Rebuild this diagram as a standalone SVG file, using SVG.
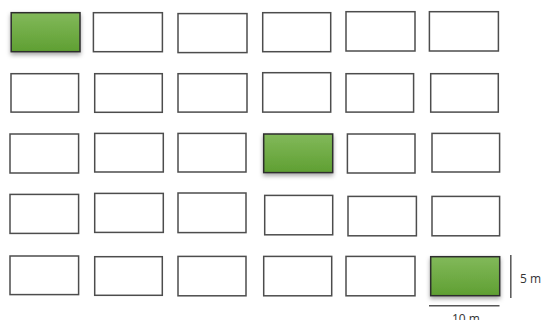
<svg xmlns="http://www.w3.org/2000/svg" width="541" height="320" viewBox="0 0 541 320">
<defs>
<linearGradient id="gr" x1="0" y1="0" x2="0" y2="1">
<stop offset="0" stop-color="#82b95a"/>
<stop offset="1" stop-color="#5f9f32"/>
</linearGradient>
<filter id="sh" x="-20%" y="-20%" width="140%" height="150%">
<feDropShadow dx="0" dy="2.5" stdDeviation="2" flood-color="#000" flood-opacity="0.35"/>
</filter>
</defs>
<style>
.p{fill:#fff;stroke:#4d4d4d;stroke-width:1.5}
.g{fill:url(#gr);stroke:#2e2e2e;stroke-width:1.5;filter:url(#sh)}
.dim{stroke:#555;stroke-width:1.5;fill:none}
.t{font-family:"Open Sans","Liberation Sans",sans-serif;font-size:12px;fill:#333}
</style>
<rect width="541" height="320" fill="#fff"/>
<g id="r1c1"><rect class="g" x="11.2" y="12.7" width="68.8" height="39"/></g>
<g id="r1c2"><rect class="p" x="93.4" y="12.7" width="69" height="39"/></g>
<g id="r1c3"><rect class="p" x="178" y="13.6" width="69" height="39"/></g>
<g id="r1c4"><rect class="p" x="262.7" y="12.7" width="68" height="39"/></g>
<g id="r1c5"><rect class="p" x="346" y="11.7" width="69" height="39.3"/></g>
<g id="r1c6"><rect class="p" x="429.4" y="11.7" width="69" height="39.3"/></g>

<g id="r2c1"><rect class="p" x="11" y="73.7" width="67.6" height="38.4"/></g>
<g id="r2c2"><rect class="p" x="94.7" y="73.7" width="67.6" height="38.6"/></g>
<g id="r2c3"><rect class="p" x="178" y="73.7" width="69" height="38.4"/></g>
<g id="r2c4"><rect class="p" x="262.7" y="72.7" width="68" height="39.4"/></g>
<g id="r2c5"><rect class="p" x="346" y="73.7" width="67.6" height="38.4"/></g>
<g id="r2c6"><rect class="p" x="430.7" y="73.7" width="67.6" height="38.4"/></g>

<g id="r3c1"><rect class="p" x="10" y="134" width="68.6" height="39"/></g>
<g id="r3c2"><rect class="p" x="94.7" y="133.4" width="68.6" height="38.6"/></g>
<g id="r3c3"><rect class="p" x="178" y="133.4" width="68" height="38.6"/></g>
<g id="r3c4"><rect class="g" x="263.7" y="134" width="69" height="38.6"/></g>
<g id="r3c5"><rect class="p" x="347.4" y="134" width="67.6" height="39"/></g>
<g id="r3c6"><rect class="p" x="432" y="133.4" width="67.6" height="38.6"/></g>

<g id="r4c1"><rect class="p" x="10" y="194.4" width="68.6" height="39"/></g>
<g id="r4c2"><rect class="p" x="94.7" y="193.4" width="68.6" height="39"/></g>
<g id="r4c3"><rect class="p" x="178" y="193" width="68" height="39.6"/></g>
<g id="r4c4"><rect class="p" x="264.7" y="195.4" width="68" height="39.4"/></g>
<g id="r4c5"><rect class="p" x="348" y="196.4" width="68.4" height="39.4"/></g>
<g id="r4c6"><rect class="p" x="432" y="196.4" width="67.6" height="39.4"/></g>

<g id="r5c1"><rect class="p" x="10" y="256" width="68.6" height="38.6"/></g>
<g id="r5c2"><rect class="p" x="94.7" y="256.7" width="67.6" height="38.6"/></g>
<g id="r5c3"><rect class="p" x="178" y="256.4" width="68" height="39.4"/></g>
<g id="r5c4"><rect class="p" x="263.7" y="256.4" width="68" height="39.4"/></g>
<g id="r5c5"><rect class="p" x="346" y="256.4" width="69" height="39.4"/></g>
<g id="r5c6"><rect class="g" x="430.7" y="256.7" width="69" height="39"/></g>

<g id="dimensions">
<line class="dim" x1="510.8" y1="255" x2="510.8" y2="298"/>
<line class="dim" x1="429" y1="305.7" x2="499.5" y2="305.7"/>
<text class="t" x="520" y="283">5 m</text>
<text class="t" x="452" y="322.5">10 m</text>
</g>
</svg>
